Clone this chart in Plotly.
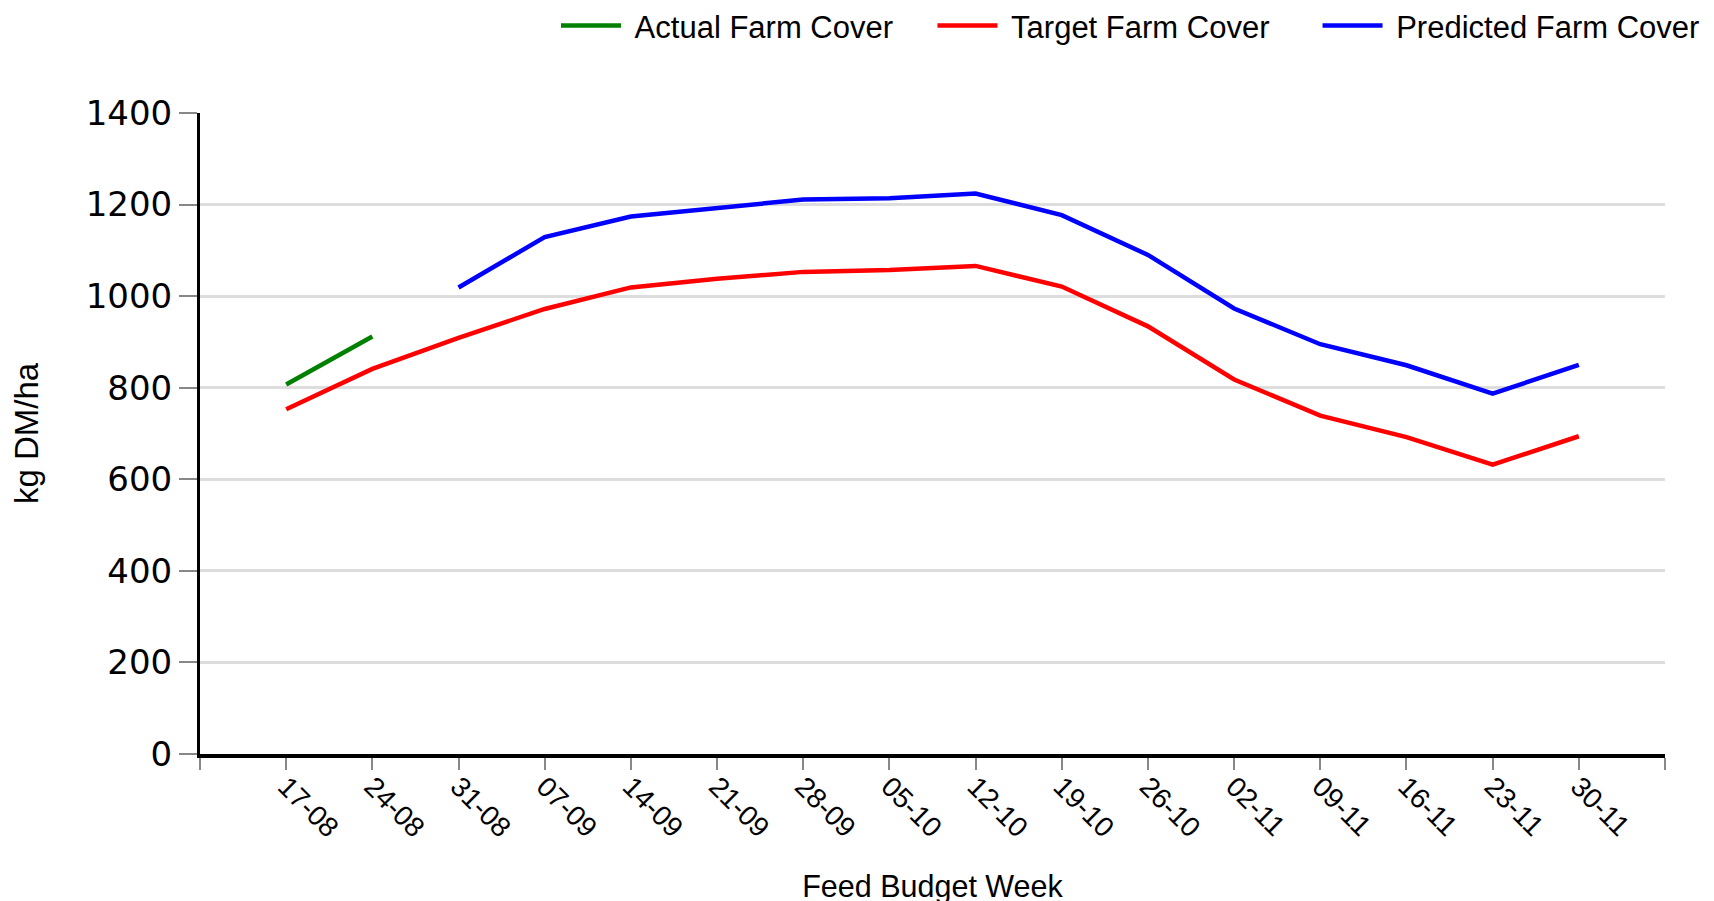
import plotly.graph_objects as go

dates = ["17-08", "24-08", "31-08", "07-09", "14-09", "21-09", "28-09", "05-10",
         "12-10", "19-10", "26-10", "02-11", "09-11", "16-11", "23-11", "30-11"]
actual = [807, 912, None, None, None, None, None, None,
          None, None, None, None, None, None, None, None]
target = [753, 841, 909, 972, 1019, 1038, 1053, 1057,
          1066, 1021, 934, 818, 739, 692, 632, 694]
predicted = [None, None, 1019, 1129, 1174, 1193, 1211, 1214,
             1224, 1177, 1090, 973, 895, 849, 787, 850]
y_ticks = [0, 200, 400, 600, 800, 1000, 1200, 1400]

NB = "\u00a0"
names = [NB + "Actual Farm Cover" + NB * 4,
         NB + "Target Farm Cover" + NB * 5,
         NB + "Predicted Farm Cover"]

xs = list(range(len(dates)))

fig = go.Figure()
fig.add_trace(go.Scatter(x=xs, y=actual, mode="lines", name=names[0],
                         line=dict(color="#008000", width=4.5)))
fig.add_trace(go.Scatter(x=xs, y=target, mode="lines", name=names[1],
                         line=dict(color="#ff0000", width=4.5)))
fig.add_trace(go.Scatter(x=xs, y=predicted, mode="lines", name=names[2],
                         line=dict(color="#0000ff", width=4.5)))

tickvals = [-1] + xs + [len(dates)]
ticktext = [""] + dates + [""]

fig.update_layout(
    width=1714, height=901,
    margin=dict(l=192, r=57, t=105, b=155, autoexpand=False),
    paper_bgcolor="white", plot_bgcolor="white",
    font=dict(family="Liberation Sans, Arial, sans-serif", color="black"),
    showlegend=True,
    legend=dict(orientation="h", xref="paper", yref="paper",
                x=0.243, xanchor="left", y=1.136, yanchor="middle",
                font=dict(size=31, family="Liberation Sans, Arial, sans-serif"),
                itemwidth=60, traceorder="normal"),
    xaxis=dict(range=[-1, len(dates)], tickmode="array", tickvals=tickvals,
               ticktext=ticktext, tickangle=45, showgrid=False, zeroline=False,
               showline=True, linecolor="black", linewidth=4,
               ticks="outside", ticklen=12, tickwidth=2, tickcolor="#888888",
               ticklabelstandoff=-11,
               tickfont=dict(size=28, family="Liberation Sans, Arial, sans-serif"),
               title=dict(text="Feed Budget Week", font=dict(size=30.5), standoff=34)),
    yaxis=dict(range=[0, 1400], tickmode="array", tickvals=y_ticks,
               showgrid=True, gridcolor="#dddddd", gridwidth=3, zeroline=False,
               showline=True, linecolor="black", linewidth=3,
               ticks="outside", ticklen=18, tickwidth=2, tickcolor="#888888",
               tickfont=dict(size=34, family="DejaVu Sans, Verdana, sans-serif"),
               title=dict(text="kg DM/ha", font=dict(size=33), standoff=41)),
)

fig.write_html("out.html")
